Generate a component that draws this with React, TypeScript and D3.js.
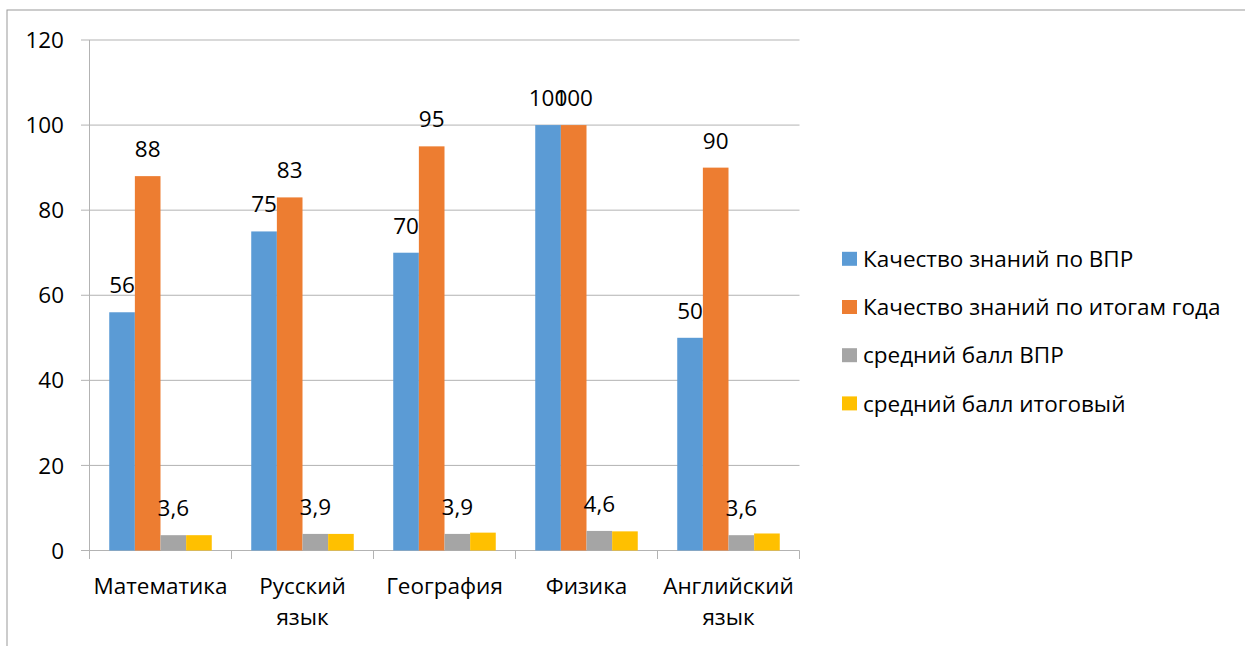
import * as d3 from 'd3';

const categories = ['Математика', 'Русский язык', 'География', 'Физика', 'Английский язык'];
const seriesNames = [
  'Качество знаний по ВПР',
  'Качество знаний по итогам года',
  'средний балл ВПР',
  'средний балл итоговый',
];
const vprQuality = [56, 75, 70, 100, 50];
const yearQuality = [88, 83, 95, 100, 90];
const vprAvg = [3.6, 3.9, 3.9, 4.6, 3.6];
const finalAvg = [3.6, 3.9, 4.2, 4.5, 4.0];
const yTicks = [0, 20, 40, 60, 80, 100, 120];

const seriesValues = [vprQuality, yearQuality, vprAvg, finalAvg];
const seriesColors = ['#5B9BD5', '#ED7D31', '#A5A5A5', '#FFC000'];
const showLabels = [true, true, true, false];

const W = 1245;
const H = 646;
const FONT = '"Open Sans", sans-serif';
const FS = 22.5;

export default function App() {
  const x0 = d3.scaleBand<string>().domain(categories).range([89.5, 799.5]).padding(0);
  const x1 = d3
    .scaleBand<number>()
    .domain(d3.range(seriesNames.length))
    .range([0, x0.bandwidth()])
    .paddingInner(0)
    .paddingOuter(0.77);
  const y = d3.scaleLinear().domain([0, 120]).range([550.5, 40]);
  const fmt = (v: number) => String(v).replace('.', ',');

  const gridColor = '#b3b3b3';

  return (
    <svg
      width={W}
      height={H}
      style={{ position: 'absolute', left: 0, top: 0, display: 'block', background: '#fff' }}
      fontFamily={FONT}
    >
      {/* chart frame */}
      <rect x={7} y={10} width={W + 20} height={H + 20} fill="none" stroke="#999" strokeWidth={1} />

      {/* gridlines and y ticks */}
      {yTicks.map((t) => (
        <g key={t}>
          <line x1={81} x2={799.5} y1={y(t)} y2={y(t)} stroke={gridColor} strokeWidth={1} />
          <text x={64} y={y(t)} dy="0.36em" textAnchor="end" fontSize={FS} fill="#000">
            {t}
          </text>
        </g>
      ))}
      <line x1={89.5} x2={89.5} y1={40} y2={550.5} stroke={gridColor} strokeWidth={1} />

      {/* x tick marks */}
      {categories.map((c) => (
        <line key={c} x1={x0(c)!} x2={x0(c)!} y1={550.5} y2={559} stroke={gridColor} />
      ))}
      <line x1={799.5} x2={799.5} y1={550.5} y2={559} stroke={gridColor} />

      {/* bars */}
      {seriesValues.map((vals, s) => (
        <g key={s}>
          {vals.map((v, i) => (
            <rect
              key={i}
              x={x0(categories[i])! + x1(s)!}
              y={y(v)}
              width={x1.bandwidth()}
              height={y(0) - y(v)}
              fill={seriesColors[s]}
            />
          ))}
        </g>
      ))}

      {/* data labels */}
      {seriesValues.map((vals, s) =>
        showLabels[s] ? (
          <g key={'l' + s}>
            {vals.map((v, i) => (
              <text
                key={i}
                x={x0(categories[i])! + x1(s)! + x1.bandwidth() / 2}
                y={y(v) - 19}
                textAnchor="middle"
                fontSize={FS}
                fill="#000"
              >
                {fmt(v)}
              </text>
            ))}
          </g>
        ) : null
      )}

      {/* category labels */}
      {categories.map((c) => (
        <text
          key={c}
          x={x0(c)! + x0.bandwidth() / 2}
          y={594}
          textAnchor="middle"
          fontSize={FS}
          fill="#000"
        >
          {c.split(' ').map((w, j) => (
            <tspan key={j} x={x0(c)! + x0.bandwidth() / 2} dy={j === 0 ? 0 : 31}>
              {w}
            </tspan>
          ))}
        </text>
      ))}

      {/* legend */}
      {seriesNames.map((n, s) => (
        <g key={n} transform={`translate(842, ${258.8 + s * 48.2})`}>
          <rect x={0} y={-7} width={15} height={14} fill={seriesColors[s]} />
          <text x={21} y={0} dy="0.36em" fontSize={FS} fill="#000">
            {n}
          </text>
        </g>
      ))}
    </svg>
  );
}
